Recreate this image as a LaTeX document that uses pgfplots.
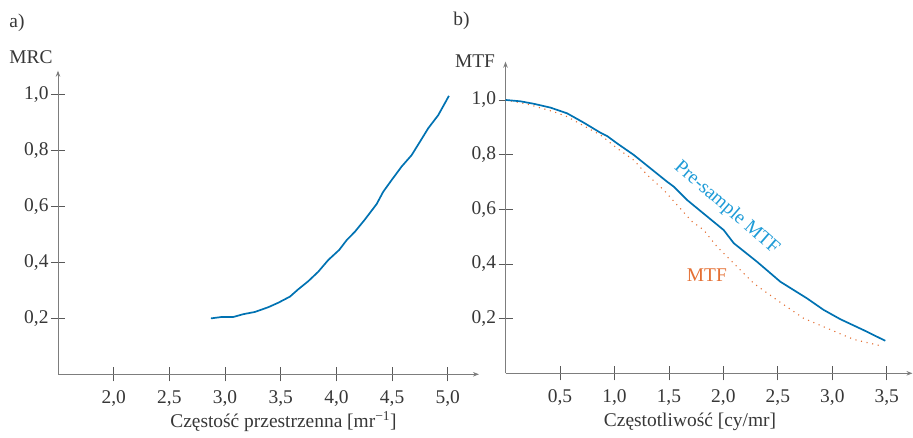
\documentclass[border=0pt]{standalone}
\usepackage{fontspec}
\setmainfont{Liberation Serif}
\usepackage{pgfplots}
\pgfplotsset{compat=1.18}
\usetikzlibrary{arrows.meta}

\definecolor{curveblue}{RGB}{0,114,178}
\definecolor{labelblue}{RGB}{30,155,215}
\definecolor{mtforange}{RGB}{228,112,52}
\definecolor{axisgray}{RGB}{125,125,125}
\definecolor{textgray}{RGB}{55,55,55}

\newcommand{\lblfont}{\fontsize{19.5}{23}\selectfont}

\pgfplotsset{
  panel/.style={
    scale only axis,
    axis lines=left,
    axis line style={axisgray, line width=0.9bp, -{Stealth[length=6bp,width=4.5bp]}},
    tick style={black!65, line width=0.8bp},
    major tick length=14bp,
    tick align=center,
    ymin=0,
    ytick={0.2,0.4,0.6,0.8,1.0},
    /pgf/number format/.cd, use comma, fixed, fixed zerofill, precision=1, assume math mode=true,
    /pgfplots/.cd,
    tick label style={font=\lblfont, text=textgray},
    xticklabel style={yshift=-6bp},
    yticklabel style={xshift=1bp},
    clip=false,
  },
}

\begin{document}
\begin{tikzpicture}
\useasboundingbox (0,0) rectangle (913bp,438bp);

% (a) modulation-response curve
\begin{axis}[panel,
  at={(58bp,63.7bp)}, anchor=south west,
  width=421bp, height=303.6bp,
  xmin=1.5, xmax=5.28, ymax=1.086,
  xtick={2.0,2.5,3.0,3.5,4.0,4.5,5.0},
]
\addplot[curveblue, line width=1.7bp, line join=round] coordinates {
  (2.873,0.200) (2.969,0.205) (3.074,0.205) (3.163,0.215) (3.268,0.223)
  (3.388,0.240) (3.478,0.256) (3.583,0.278) (3.657,0.304) (3.747,0.333)
  (3.837,0.367) (3.927,0.409) (4.025,0.445) (4.092,0.480) (4.166,0.510)
  (4.256,0.554) (4.361,0.609) (4.420,0.653) (4.496,0.695) (4.585,0.743)
  (4.675,0.784) (4.750,0.832) (4.824,0.880) (4.914,0.927) (5.010,0.996)
};
\end{axis}

% (b) pre-sample MTF and system MTF
\begin{axis}[panel,
  at={(505.5bp,64.7bp)}, anchor=south west,
  width=407bp, height=311.6bp,
  xmin=0, xmax=3.736, ymax=1.140,
  xtick={0.5,1.0,1.5,2.0,2.5,3.0,3.5},
]
\addplot[mtforange, line width=1.1bp, dash pattern=on 1.1bp off 4.6bp] coordinates {
  (0,1.0) (0.199,0.985) (0.443,0.957) (0.566,0.939) (0.688,0.912)
  (0.872,0.872) (1.025,0.823) (1.177,0.780) (1.300,0.726) (1.452,0.671)
  (1.575,0.616) (1.713,0.555) (1.820,0.524) (1.942,0.463) (2.095,0.402)
  (2.278,0.329) (2.492,0.268) (2.737,0.201) (2.951,0.165) (3.196,0.124)
  (3.440,0.101)
};
\addplot[curveblue, line width=1.7bp, line join=round] coordinates {
  (0,1.0) (0.138,0.995) (0.260,0.986) (0.413,0.972) (0.566,0.951)
  (0.718,0.917) (0.872,0.880) (0.933,0.868) (1.025,0.841) (1.177,0.799)
  (1.330,0.750) (1.483,0.701) (1.544,0.683) (1.667,0.634) (1.789,0.594)
  (2.003,0.524) (2.095,0.476) (2.309,0.408) (2.523,0.335) (2.768,0.274)
  (2.920,0.232) (3.073,0.198) (3.287,0.158) (3.486,0.119)
};
\node[labelblue, rotate=-41, font=\lblfont, inner sep=0pt] at (axis cs:2.03,0.605) {Pre-sample MTF};
\node[mtforange, font=\lblfont, inner sep=0pt] at (axis cs:1.849,0.360) {MTF};
\end{axis}

% panel letters and axis titles
\node[textgray, font=\lblfont] at (17bp,415bp) {a)};
\node[textgray, font=\lblfont] at (461.5bp,417bp) {b)};
\node[textgray, font=\lblfont] at (31bp,380.5bp) {MRC};
\node[textgray, font=\lblfont] at (475bp,377bp) {MTF};
\node[textgray, font=\lblfont] at (283.5bp,16.3bp) {Częstość przestrzenna [mr\textsuperscript{−1}]};
\node[textgray, font=\lblfont] at (690bp,16.3bp) {Częstotliwość [cy/mr]};
\end{tikzpicture}
\end{document}
